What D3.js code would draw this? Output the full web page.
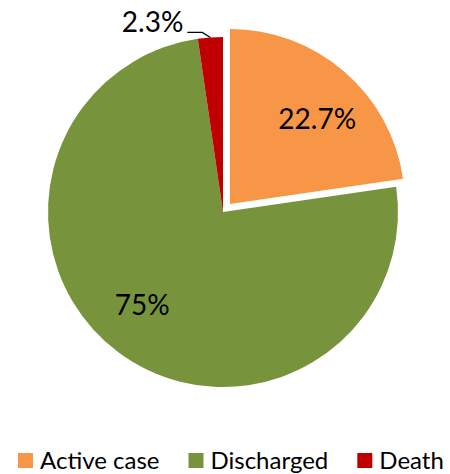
<!DOCTYPE html>
<html><head><meta charset="utf-8">
<script src="https://cdn.jsdelivr.net/npm/d3@7"></script>
<style>body{margin:0;background:#fff}svg{display:block}</style>
</head><body>
<svg id="c" width="450" height="474"></svg>
<script>
const categories = ["Active case", "Discharged", "Death"];
const values = [22.7, 75, 2.3];
const labels = ["22.7%", "75%", "2.3%"];
const colors = ["#F79646", "#77933C", "#C00000"];

const W = 450, H = 474;
const cx = 223, cy = 212, R = 175;
const svg = d3.select("#c");
const g = svg.append("g").attr("transform", `translate(${cx},${cy})`);

const pie = d3.pie().sort(null).value(d => d).startAngle(0).endAngle(2*Math.PI);
const arcs = pie(values);
const arc = d3.arc().innerRadius(0).outerRadius(R);
const labelArc = d3.arc().innerRadius(R*0.7).outerRadius(R*0.7);
const explode = [10.6, 0, 0];

function off(d, i) {
  const a = (d.startAngle + d.endAngle) / 2;
  return [Math.sin(a) * explode[i], -Math.cos(a) * explode[i]];
}

g.selectAll("path.slice").data(arcs).enter().append("path")
  .attr("class", "slice")
  .attr("d", arc)
  .attr("fill", (d, i) => colors[i])
  .attr("transform", (d, i) => { const o = off(d, i); return `translate(${o[0]},${o[1]})`; });

const font = "Lato, 'Open Sans', sans-serif";

// inside labels (best-fit nudged a little clockwise like the original)
arcs.forEach((d, i) => {
  if (i === 2) return;
  const a = (d.startAngle + d.endAngle) / 2 + 0.08;
  const r = R * 0.7;
  const o = off(d, i);
  g.append("text")
    .attr("x", Math.sin(a) * r + o[0]).attr("y", -Math.cos(a) * r + o[1])
    .attr("text-anchor", "middle").attr("dominant-baseline", "central")
    .attr("font-family", font).attr("font-size", 28).attr("fill", "#000")
    .text(labels[i]);
});

// outside label for Death with leader line
{
  const d = arcs[2];
  const a = (d.startAngle + d.endAngle) / 2;
  const p0 = [Math.sin(a) * R, -Math.cos(a) * R];
  const p1 = [p0[0] - 8, p0[1] - 5];
  const p2 = [p1[0] - 15, p1[1]];
  g.append("path")
    .attr("d", d3.line()([p0, p1, p2]))
    .attr("fill", "none").attr("stroke", "#000").attr("stroke-width", 1.3);
  g.append("text")
    .attr("x", p2[0] - 4).attr("y", p2[1])
    .attr("text-anchor", "end")
    .attr("font-family", font).attr("font-size", 28).attr("fill", "#000")
    .text(labels[2]);
}

// legend
const leg = svg.append("g");
let x = 18;
const ly = 469;
categories.forEach((c, i) => {
  leg.append("rect").attr("x", x).attr("y", ly - 16).attr("width", 15).attr("height", 15).attr("fill", colors[i]);
  const t = leg.append("text").attr("x", x + 22).attr("y", ly)
    .attr("font-family", font).attr("font-size", 24).attr("fill", "#000").text(c);
  const w = t.node().getComputedTextLength();
  x = x + 22 + w + 29;
});
</script>
</body></html>
